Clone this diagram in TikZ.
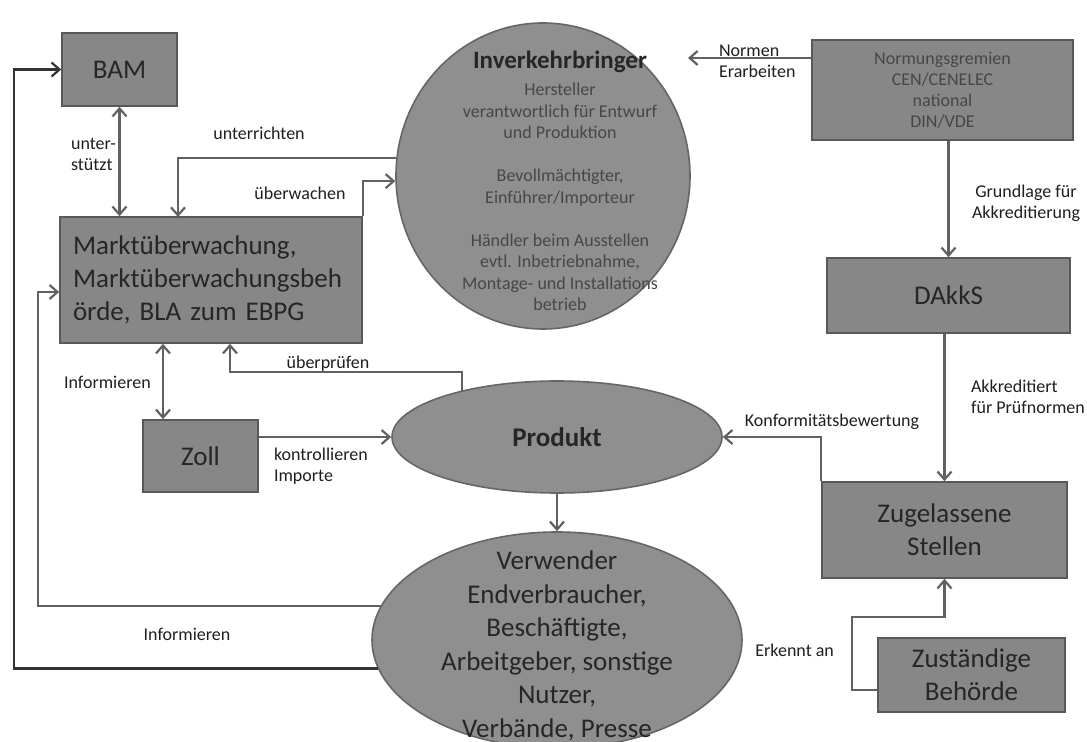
\documentclass[tikz,border=0pt]{standalone}
\usepackage{fontspec}
\setmainfont{Carlito}
\usetikzlibrary{shapes.geometric,arrows.meta}

\tikzset{
    box/.style={draw=black!65, fill=black!47, line width=0.8pt, inner sep=0pt,
        align=center, text=black!85, font=\fontsize{13.5}{16.5}\selectfont},
    blob/.style={ellipse, draw=black!60, fill=black!44, line width=0.8pt, inner sep=0pt},
    small/.style={text=black!72, font=\fontsize{9}{10.75}\selectfont},
    lbl/.style={text=black!88, font=\fontsize{9}{10.5}\selectfont, align=left},
    arr/.style={draw=black!62, line width=1.1pt, -{Straight Barb[length=4pt,width=7pt]}},
    dblarr/.style={arr, {Straight Barb[length=4pt,width=7pt]}-{Straight Barb[length=4pt,width=7pt]}}
}

\begin{document}
\begin{tikzpicture}[x=0.5pt, y=-0.5pt]
    \fill[white] (0,0) rectangle (1087,742);
    \useasboundingbox (0,0) rectangle (1087,742);

    % Draw nodes for the authorities
    \node[box, minimum width=57.5pt, minimum height=36.5pt] (bam) at (119.5,69.5) {BAM};
    \node[box, minimum width=151pt, minimum height=63pt, text width=138pt, align=left] (markt) at (211,280)
        {Marktüberwachung,\\ Marktüberwachungsbeh\\ örde, BLA zum EBPG};
    \node[box, minimum width=57.5pt, minimum height=36pt] (zoll) at (200.5,456) {Zoll};

    % Draw nodes for the market players
    \node[blob, minimum width=147pt, minimum height=153pt] (inv) at (543,176) {};
    \node[small, align=center] (invtext) at (560,181)
        {{\fontsize{12.5}{15}\selectfont\bfseries\color{black!85}Inverkehrbringer}\\[3pt]
         Hersteller\\ verantwortlich für Entwurf\\ und Produktion\\[10.75pt]
         Bevollmächtigter,\\ Einführer/Importeur\\[10.75pt]
         Händler beim Ausstellen\\ evtl. Inbetriebnahme,\\ Montage- und Installations\\ betrieb};
    \node[blob, minimum width=165pt, minimum height=56pt, text=black!85,
        font=\fontsize{13.5}{16}\selectfont\bfseries] (prod) at (557,437) {Produkt};
    \node[blob, minimum width=185pt, minimum height=108pt] (verw) at (557,640) {};
    \node[align=center, text=black!85, font=\fontsize{13.5}{16.75}\selectfont] (verwtext) at (557,646)
        {Verwender\\ Endverbraucher,\\ Beschäftigte,\\ Arbeitgeber, sonstige\\ Nutzer,\\ Verbände, Presse};

    % Draw nodes for standards and accreditation
    \node[box, minimum width=130.5pt, minimum height=50pt, text=black!72,
        font=\fontsize{9}{10.5}\selectfont] (norm) at (942.5,90)
        {Normungsgremien\\ CEN/CENELEC\\ national\\ DIN/VDE};
    \node[box, minimum width=121.5pt, minimum height=37.5pt] (dakks) at (948.5,295.5) {DAkkS};
    \node[box, minimum width=122.5pt, minimum height=48pt] (zug) at (944.5,530) {Zugelassene\\ Stellen};
    \node[box, minimum width=93.5pt, minimum height=37pt] (zust) at (971.5,675) {Zuständige\\ Behörde};

    % Draw edges
    \coordinate (unt) at (178,217);
    \coordinate (mz) at (163,0);
    \coordinate (pr) at (230,372);
    \coordinate (lin) at (38,292);
    \coordinate (lout) at (14,69.5);
    \coordinate (ntip) at (688,58);
    \coordinate (ek) at (852,617);

    \draw[dblarr] (bam.south) -- (bam.south |- markt.north);
    \draw[arr] (inv.173) -| (unt);
    \draw[arr] (markt.north east) |- (inv.182);
    \draw[dblarr] (mz |- markt.south) -- (mz |- zoll.north);
    \draw[arr] (prod.154) |- (pr) -- (pr |- markt.south);
    \draw[arr] (zoll.east |- prod.west) -- (prod.west);
    \draw[arr] (prod.south) -- (verw.north);
    \draw[arr] (verw.169) -| (lin) -- (lin -| markt.west);
    \draw[arr, draw=black!80] (verw.189) -| (lout) -- (bam.west);
    \draw[arr] (norm.west |- ntip) -- (ntip);
    \draw[arr] (norm.south -| dakks.north) -- (dakks.north);
    \draw[arr] (dakks.south -| zug.north) -- (zug.north);
    \draw[arr] (zug.north west) |- (prod.east);
    \draw[arr] ([yshift=-7.5pt]zust.west) -| (ek) -| (zug.south);

    % Edge labels
    \node[lbl, anchor=west] (lunt) at (64,154) {unter-\\stützt};
    \node[lbl] (lunterr) at (259,133) {unterrichten};
    \node[lbl] (lueberw) at (300,193) {überwachen};
    \node[lbl, anchor=west] (linf) at (57,382) {Informieren};
    \node[lbl] (luebpr) at (328,364) {überprüfen};
    \node[lbl, anchor=west] (lkontr) at (267,466) {kontrollieren\\Importe};
    \node[lbl] (linf2) at (187,634) {Informieren};
    \node[lbl, anchor=west] (lnorm) at (712,61) {Normen\\Erarbeiten};
    \node[lbl, align=center] (lgrund) at (1026,203) {Grundlage für\\Akkreditierung};
    \node[lbl, anchor=west] (lakk) at (964,397) {Akkreditiert\\für Prüfnormen};
    \node[lbl] (lkonf) at (832,422) {Konformitätsbewertung};
    \node[lbl, anchor=east] (lerk) at (841,650) {Erkennt an};
\end{tikzpicture}
\end{document}
